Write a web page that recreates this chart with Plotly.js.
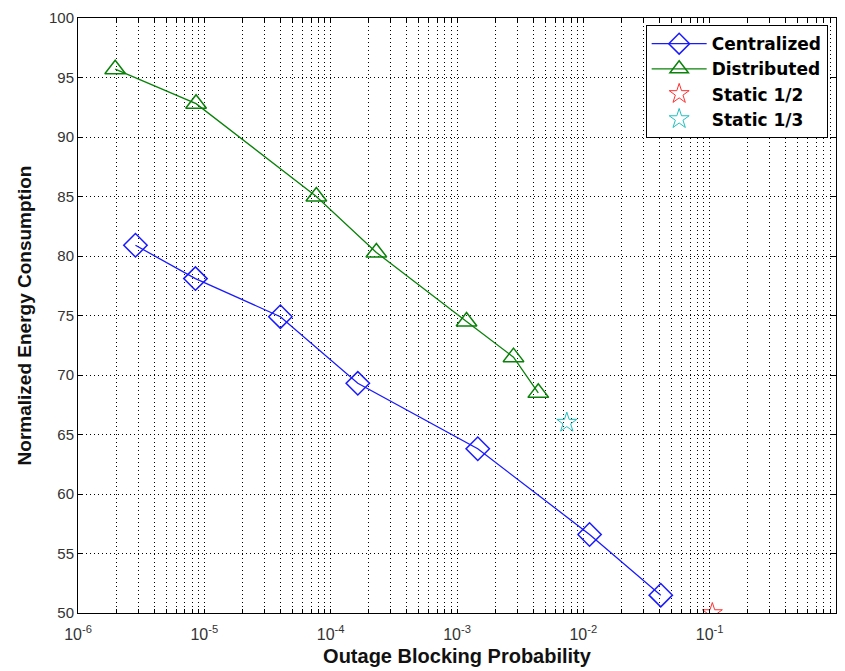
<!DOCTYPE html>
<html><head><meta charset="utf-8">
<script src="https://cdn.plot.ly/plotly-3.0.1.min.js"></script>
<style>html,body{margin:0;padding:0;background:#fff}#c{width:845px;height:671px}</style>
</head><body><div id="c"></div>
<script>
// Data
const centralizedX = [2.85e-6, 8.5e-6, 4.0e-5, 1.64e-4, 1.46e-3, 1.12e-2, 4.1e-2];
const centralizedY = [80.9, 78.1, 74.9, 69.3, 63.8, 56.6, 51.5];
const distributedX = [1.97e-6, 8.6e-6, 7.7e-5, 2.3e-4, 1.19e-3, 2.8e-3, 4.4e-3];
const distributedY = [95.7, 92.8, 85.0, 80.3, 74.5, 71.5, 68.5];
const static12X = [0.105];
const static12Y = [50];
const static13X = [7.4e-3];
const static13Y = [66];
const decades = [-6, -5, -4, -3, -2, -1, 0];
const yTicks = [50, 55, 60, 65, 70, 75, 80, 85, 90, 95, 100];

const xTickVals = [], xTickText = [];
decades.forEach(d => {
  const kmax = d === 0 ? 1 : 9;
  for (let k = 1; k <= kmax; k++) {
    xTickVals.push(k * Math.pow(10, d));
    xTickText.push(k === 1 ? '10<sup>' + d + '</sup>' : '');
  }
});

const font = 'Arial, "Liberation Sans", sans-serif';
const traces = [
  {x: centralizedX, y: centralizedY, name: 'Centralized', mode: 'lines+markers',
   line: {color: '#1a1aff', width: 1.3},
   marker: {symbol: 'diamond-open', size: 18, color: '#1a1aff', line: {width: 1.5}}},
  {x: distributedX, y: distributedY, name: 'Distributed', mode: 'lines+markers',
   line: {color: '#0a820a', width: 1.3},
   marker: {symbol: 'triangle-up-open', size: 18, color: '#0a820a', line: {width: 1.5}}},
  {x: static12X, y: static12Y, name: 'Static 1/2', mode: 'markers',
   marker: {symbol: 'star-open', size: 15, color: '#ff3030', line: {width: 1}}},
  {x: static13X, y: static13Y, name: 'Static 1/3', mode: 'markers',
   marker: {symbol: 'star-open', size: 15, color: '#20c0c0', line: {width: 1}}}
];

const layout = {
  width: 845, height: 671,
  margin: {l: 78, r: 9, t: 18, b: 58},
  paper_bgcolor: '#fff', plot_bgcolor: '#fff',
  font: {family: font, color: '#000'},
  showlegend: true,
  legend: {x: 0.989, y: 0.988, xanchor: 'right', yanchor: 'top',
    bgcolor: '#fff', bordercolor: '#000', borderwidth: 1,
    font: {family: '"DejaVu Sans", Arial, sans-serif', size: 17, color: '#000', weight: 'bold'},
    tracegroupgap: 0, itemwidth: 55},
  xaxis: {type: 'log', range: [-6, 0], tickmode: 'array', tickvals: xTickVals, ticktext: xTickText,
    showgrid: true, gridcolor: '#000', gridwidth: 1, griddash: '1px,3px',
    showline: true, linecolor: '#000', linewidth: 1, mirror: 'ticks',
    ticks: 'inside', ticklen: 4, tickcolor: '#000', zeroline: false,
    ticklabelstandoff: 7,
    tickfont: {family: font, size: 16, color: '#333'},
    title: {text: 'Outage Blocking Probability', font: {family: font, size: 20, color: '#111', weight: 'bold'}, standoff: 6}},
  yaxis: {range: [50, 100], tickmode: 'array', tickvals: yTicks,
    showgrid: true, gridcolor: '#000', gridwidth: 1, griddash: '1px,3px',
    showline: true, linecolor: '#000', linewidth: 1, mirror: 'ticks',
    ticks: 'inside', ticklen: 5, tickcolor: '#000', zeroline: false,
    tickfont: {family: font, size: 15, color: '#333'},
    title: {text: 'Normalized Energy Consumption', font: {family: font, size: 19, color: '#111', weight: 'bold'}, standoff: 12}}
};

Plotly.newPlot('c', traces, layout, {displayModeBar: false, staticPlot: true});
</script>
</body></html>
